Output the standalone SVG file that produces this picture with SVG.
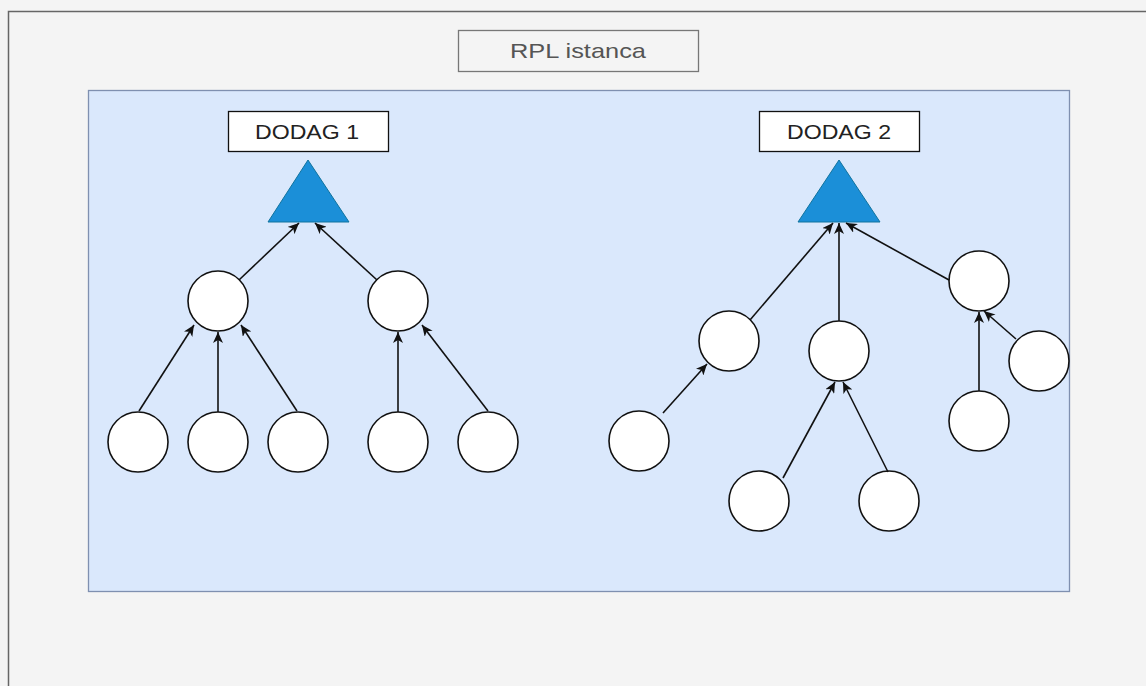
<svg xmlns="http://www.w3.org/2000/svg" width="1146" height="686" viewBox="0 0 1146 686">
<style>
.n{fill:#fff;stroke:#111;stroke-width:1.6}
.tri{fill:#1b8fd8;stroke:#10739e;stroke-width:1}
.lbl{fill:#fff;stroke:#111;stroke-width:1.3}
.t{font-family:"Liberation Sans",Arial,sans-serif;font-size:21px;fill:#222;text-anchor:middle}
.e{stroke:#111;stroke-width:1.6;fill:none;marker-end:url(#a)}
</style>
<defs>
<marker id="a" markerUnits="userSpaceOnUse" markerWidth="12" markerHeight="10" refX="11" refY="5" orient="auto" viewBox="0 0 12 10">
<path d="M0,0 L11,5 L0,10 L3,5 Z" fill="#111"/>
</marker>
</defs>
<rect x="0" y="0" width="1146" height="686" fill="#f4f4f4"/>
<path d="M8.5,686 V11.5 H1146" fill="none" stroke="#666" stroke-width="1.5"/>
<rect x="88.5" y="90.5" width="981" height="501" fill="#dae8fc" stroke="#7f90b0" stroke-width="1.3"/>
<g id="title">
<rect x="458.5" y="30.5" width="240" height="41" fill="#f4f4f4" stroke="#777" stroke-width="1.3"/>
<text x="578" y="58" class="t" style="fill:#555" textLength="136" lengthAdjust="spacingAndGlyphs">RPL istanca</text>
</g>
<g id="dodag1-label">
<rect class="lbl" x="228.5" y="111.5" width="160" height="40"/>
<text x="307" y="139" class="t" textLength="104" lengthAdjust="spacingAndGlyphs">DODAG 1</text>
</g>
<g id="dodag2-label">
<rect class="lbl" x="759.5" y="111.5" width="160" height="40"/>
<text x="839" y="139" class="t" textLength="104" lengthAdjust="spacingAndGlyphs">DODAG 2</text>
</g>
<g id="root1"><polygon class="tri" points="308,160 349,222 268,222"/></g>
<g id="root2"><polygon class="tri" points="839,160 880,222 798,222"/></g>
<g id="d1-a"><circle class="n" cx="218" cy="301" r="30"/></g>
<g id="d1-b"><circle class="n" cx="398" cy="301" r="30"/></g>
<g id="d1-a1"><circle class="n" cx="138" cy="442" r="30"/></g>
<g id="d1-a2"><circle class="n" cx="218" cy="442" r="30"/></g>
<g id="d1-a3"><circle class="n" cx="298" cy="442" r="30"/></g>
<g id="d1-b1"><circle class="n" cx="398" cy="442" r="30"/></g>
<g id="d1-b2"><circle class="n" cx="488" cy="442" r="30"/></g>
<g id="d2-a"><circle class="n" cx="729" cy="341" r="30"/></g>
<g id="d2-b"><circle class="n" cx="839" cy="351" r="30"/></g>
<g id="d2-c"><circle class="n" cx="979" cy="281" r="30"/></g>
<g id="d2-c2"><circle class="n" cx="1039" cy="361" r="30"/></g>
<g id="d2-a1"><circle class="n" cx="639" cy="441" r="30"/></g>
<g id="d2-b1"><circle class="n" cx="759" cy="501" r="30"/></g>
<g id="d2-b2"><circle class="n" cx="889" cy="501" r="30"/></g>
<g id="d2-c1"><circle class="n" cx="979" cy="421" r="30"/></g>
<g id="connectors">
<line class="e" x1="239" y1="280" x2="299" y2="223"/>
<line class="e" x1="377" y1="280" x2="315" y2="223"/>
<line class="e" x1="139" y1="411" x2="194" y2="325"/>
<line class="e" x1="218" y1="412" x2="218" y2="332"/>
<line class="e" x1="297" y1="411" x2="241" y2="325"/>
<line class="e" x1="398" y1="412" x2="398" y2="332"/>
<line class="e" x1="488" y1="411" x2="422" y2="325"/>
<line class="e" x1="750" y1="320" x2="833" y2="223"/>
<line class="e" x1="839" y1="321" x2="839" y2="223"/>
<line class="e" x1="949" y1="280" x2="846" y2="223"/>
<line class="e" x1="663" y1="413" x2="707" y2="364"/>
<line class="e" x1="783" y1="478" x2="835" y2="382"/>
<line class="e" x1="888" y1="472" x2="843" y2="382"/>
<line class="e" x1="979" y1="391" x2="979" y2="312"/>
<line class="e" x1="1016" y1="339" x2="984" y2="311"/>
</g>
</svg>
